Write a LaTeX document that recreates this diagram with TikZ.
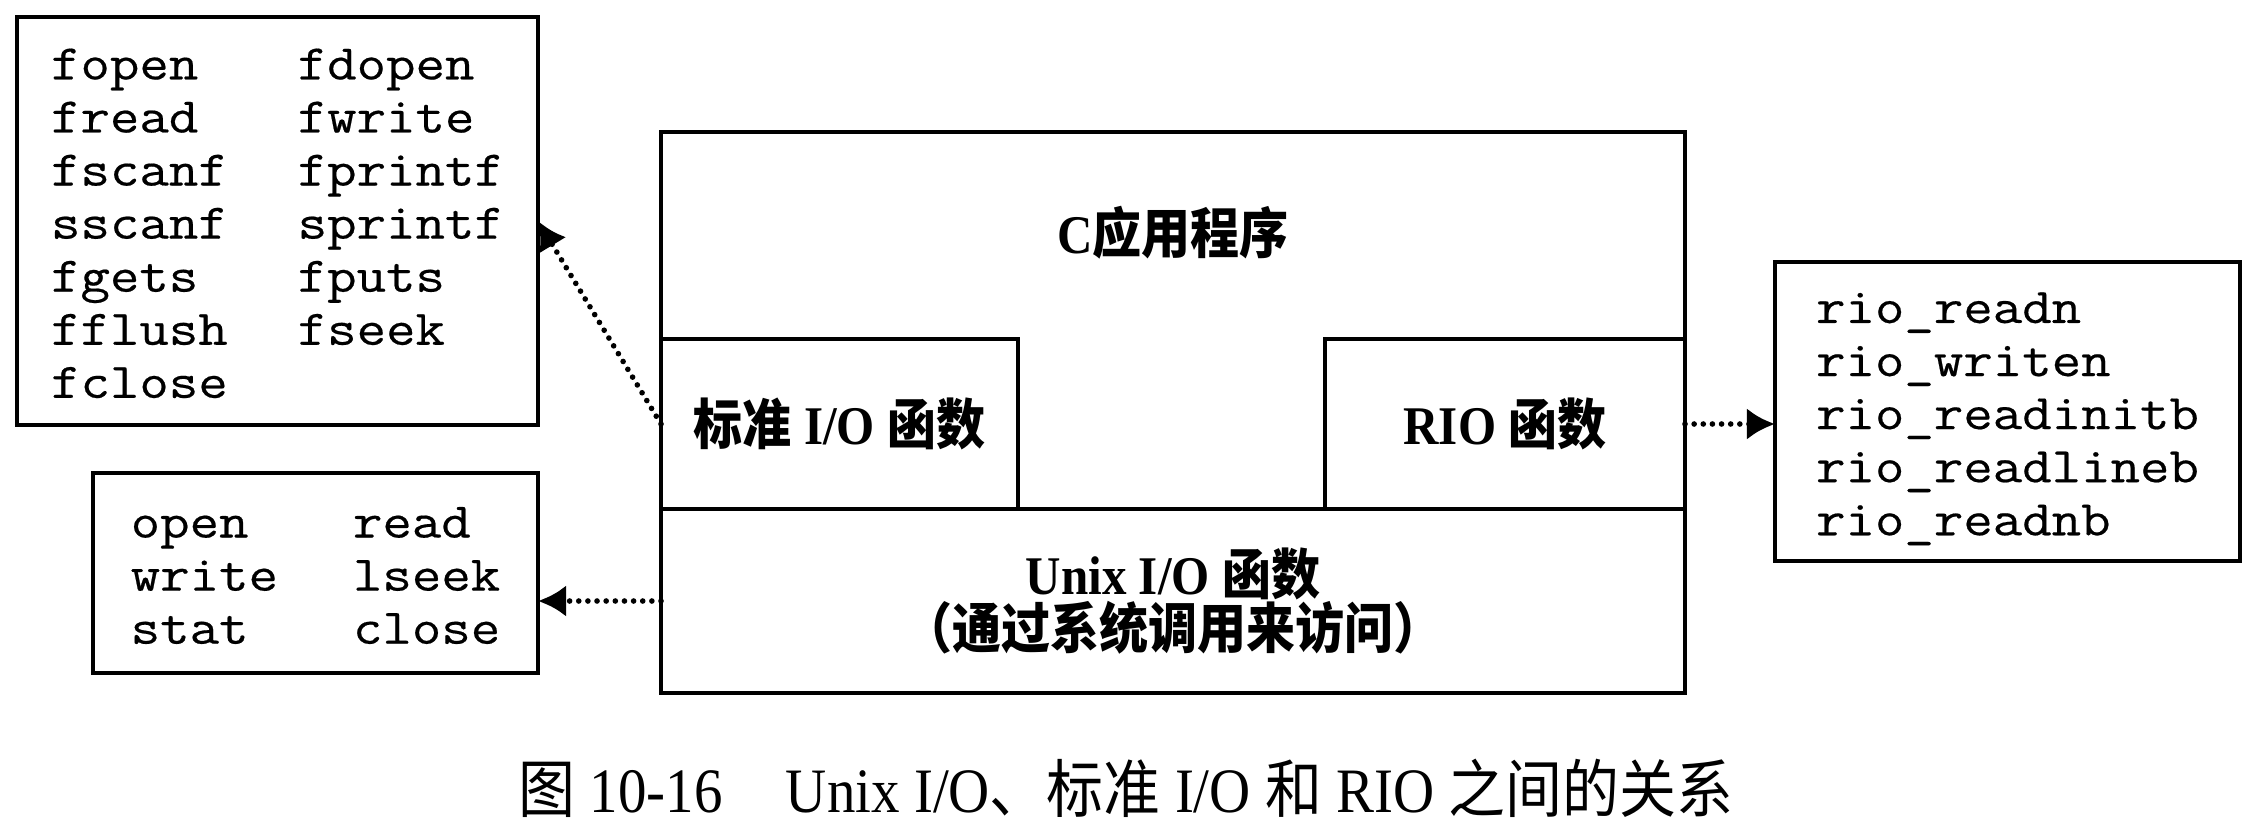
\documentclass[tikz,border=0pt]{standalone}
\usepackage{fontspec}
\setmainfont{Liberation Serif}[FakeStretch=0.9]
\setmonofont{Latin Modern Mono}[FakeStretch=1.146, FakeBold=0.4]
\newfontfamily\cjk{Noto Sans CJK SC}[FakeStretch=0.9]
\usetikzlibrary{arrows.meta,calc}

% pad the top of a list so its lines sit a little lower in the frame
\newcommand\lowered[1]{\raisebox{0pt}[\dimexpr\height+0.14cm\relax][\depth]{#1}}

\tikzset{
  frame/.style={draw, line width=1.2pt, inner sep=0pt, outer sep=0pt},
  listbox/.style={frame, font=\fontsize{14.2}{15.1}\selectfont\ttfamily},
  lbl/.style={font=\fontsize{15.5}{15.6}\selectfont\bfseries, align=center},
  link/.style={line width=1.6pt, line cap=round, dash pattern=on 0pt off 2.6pt,
               -{Latex[length=8pt,width=9pt]}},
}

\begin{document}
\begin{tikzpicture}
  \useasboundingbox (0,0) rectangle (22.54,-8.28);

  % function lists
  \node[listbox, anchor=north west, minimum width=5.21cm, minimum height=4.08cm]
    (stdlist) at (0.17,-0.17)
    {\lowered{\begin{tabular}{@{}l@{\hspace{0.7cm}}l@{}}
      fopen  & fdopen\\
      fread  & fwrite\\
      fscanf & fprintf\\
      sscanf & sprintf\\
      fgets  & fputs\\
      fflush & fseek\\
      fclose &
    \end{tabular}}};

  \node[listbox, anchor=north west, minimum width=4.45cm, minimum height=2.00cm]
    (unixlist) at (0.93,-4.73)
    {\lowered{\begin{tabular}{@{}l@{\hspace{0.75cm}}l@{}}
      open  & read\\
      write & lseek\\
      stat  & close
    \end{tabular}}};

  \node[listbox, anchor=north west, minimum width=4.65cm, minimum height=2.99cm]
    (riolist) at (17.75,-2.62)
    {\lowered{\begin{tabular}{@{}l@{}}
      rio\_readn\\ rio\_writen\\ rio\_readinitb\\ rio\_readlineb\\ rio\_readnb
    \end{tabular}}};

  % layered stack
  \node[frame, anchor=north west, minimum width=10.24cm, minimum height=3.77cm]
    (app) at (6.61,-1.32) {};
  \node[lbl] (apptitle) at (11.73,-2.33) {C{\cjk 应用程序}};

  \node[frame, lbl, fill=white, anchor=north west, minimum width=3.57cm, minimum height=1.70cm]
    (std) at (6.61,-3.39) {{\cjk 标准} I/O {\cjk 函数}};

  \node[frame, lbl, fill=white, anchor=north east, minimum width=3.60cm, minimum height=1.70cm]
    (rio) at (16.85,-3.39) {RIO {\cjk 函数}};

  \node[frame, lbl, anchor=north west, minimum width=10.24cm, minimum height=1.84cm]
    (unix) at (6.61,-5.09) {Unix I/O {\cjk 函数}\\{\cjk （通过系统调用来访问）}};

  % connectors
  \draw[link] (std.west) -- (stdlist.east);
  \draw[link] (unix.west) -- (unix.west -| unixlist.east);
  \draw[link] (rio.east) -- (rio.east -| riolist.west);

  % caption
  \node[font=\fontsize{18}{18}\selectfont] (caption) at (11.26,-7.88)
    {{\cjk 图} 10-16\quad Unix I/O{\cjk 、标准} I/O {\cjk 和} RIO {\cjk 之间的关系}};
\end{tikzpicture}
\end{document}
